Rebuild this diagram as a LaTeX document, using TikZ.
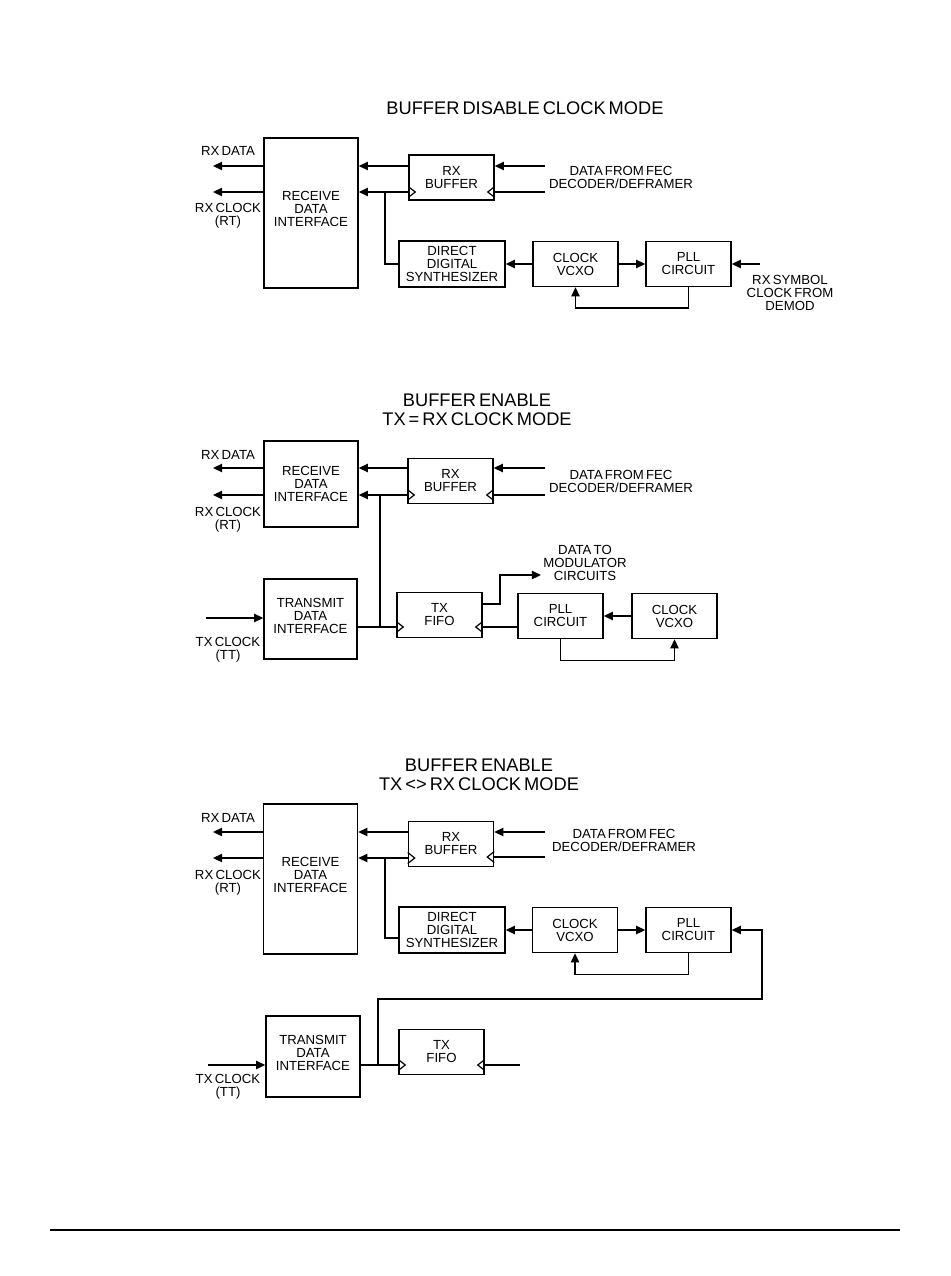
\documentclass[tikz,border=0pt]{standalone}
\usepackage{fontspec}
\setmainfont{Liberation Sans}[WordSpace=0.6]
\usetikzlibrary{arrows.meta, positioning, calc}

\newcommand{\lblfont}{\fontsize{9.9}{9.75}\selectfont}
\newcommand{\ttlfont}{\fontsize{13.7}{14.3}\selectfont}

\tikzset{
  blk/.style={draw, rectangle, line width=1.15pt, minimum width=63.75pt, minimum height=33.75pt, inner sep=0pt, align=center, font=\lblfont},
  lbl/.style={align=center, inner sep=0pt, font=\lblfont},
  ttl/.style={align=center, inner sep=0pt, font=\ttlfont},
  wire/.style={line width=1.15pt},
  arr/.style={wire, -{Triangle[length=6.8pt, width=6.2pt]}},
  clkl/.pic={\draw[line width=0.9pt] (0,-5.5) -- (7,0) -- (0,5.5);},
  clkr/.pic={\draw[line width=0.9pt] (0,-5.5) -- (-7,0) -- (0,5.5);},
}

\begin{document}
\begin{tikzpicture}[x=0.75pt, y=-0.75pt]
        \useasboundingbox (0,0) rectangle (950,1276);

        % Buffer disable clock mode
        \node[ttl] (ttlA) at (525,108) {BUFFER DISABLE CLOCK MODE};
        \node[blk, minimum width=70.5pt, minimum height=112.5pt,
              label={[lbl, yshift=3.4pt]center:RECEIVE\\DATA\\INTERFACE}] (rdiA) at (311,213) {};
        \node[blk] (rxbA) at (451.5,177.5) {RX\\BUFFER};
        \node[blk, minimum width=79.5pt, minimum height=34.5pt] (ddsA) at (452,264) {DIRECT\\DIGITAL\\SYNTHESIZER};
        \node[blk] (vcoA) at (575.5,264) {CLOCK\\VCXO};
        \node[blk] (pllA) at (688.5,264) {PLL\\CIRCUIT};

        \coordinate (rxdA) at (213,166);
        \coordinate (rxcA) at (213,192);
        \coordinate (fecA) at (545,166);
        \coordinate (fckA) at (545,192);
        \coordinate (tapA) at (385,192);
        \coordinate (symA) at (760,264);

        \draw[arr] (rdiA.west |- rxdA) -- (rxdA);
        \draw[arr] (rdiA.west |- rxcA) -- (rxcA);
        \draw[arr] (rxbA.west |- rxdA) -- (rdiA.east |- rxdA);
        \draw[arr] (rxbA.west |- rxcA) -- (rdiA.east |- rxcA);
        \draw[arr] (fecA) -- (rxbA.east |- fecA);
        \draw[wire] (fckA) -- (rxbA.east |- fckA);
        \pic at (rxbA.west |- rxcA) {clkl};
        \pic at (rxbA.east |- fckA) {clkr};
        \draw[wire] (tapA) |- (ddsA.west);
        \draw[arr] (vcoA.west) -- (ddsA.east);
        \draw[arr] (vcoA.east) -- (pllA.west);
        \draw[arr] (symA) -- (pllA.east);
        \draw[arr] (pllA.south) -- ++(0,21) -| (vcoA.south);

        \node[lbl] (lrxdA) at (228,151) {RX DATA};
        \node[lbl] (lrxcA) at (228,216) {RX CLOCK\\(RT)};
        \node[lbl] (lfecA) at (621,177) {DATA FROM FEC\\DECODER/DEFRAMER};
        \node[lbl] (lsymA) at (790,293) {RX SYMBOL\\CLOCK FROM\\DEMOD};

        % Buffer enable, tx = rx clock mode
        \node[ttl] (ttlB) at (477,409.5) {BUFFER ENABLE\\TX = RX CLOCK MODE};
        \node[blk, minimum width=70.5pt, minimum height=64.5pt] (rdiB) at (311,484) {RECEIVE\\DATA\\INTERFACE};
        \node[blk] (rxbB) at (450.5,481) {RX\\BUFFER};
        \node[blk, minimum width=69.75pt, minimum height=60pt,
              label={[lbl, yshift=2.2pt]center:TRANSMIT\\DATA\\INTERFACE}] (tdiB) at (310.5,619) {};
        \node[blk] (txfB) at (439.5,615) {TX\\FIFO};
        \node[blk] (pllB) at (560.5,616) {PLL\\CIRCUIT};
        \node[blk] (vcoB) at (674.5,616) {CLOCK\\VCXO};

        \coordinate (rxdB) at (213,468);
        \coordinate (rxcB) at (213,495);
        \coordinate (fecB) at (545,468);
        \coordinate (fckB) at (545,495);
        \coordinate (tapB) at (380,627);
        \coordinate (txcB) at (206,618);
        \coordinate (doutB) at (500,604);
        \coordinate (modB) at (541,575);

        \draw[arr] (rdiB.west |- rxdB) -- (rxdB);
        \draw[arr] (rdiB.west |- rxcB) -- (rxcB);
        \draw[arr] (rxbB.west |- rxdB) -- (rdiB.east |- rxdB);
        \draw[arr] (rxbB.west |- rxcB) -- (rdiB.east |- rxcB);
        \draw[arr] (fecB) -- (rxbB.east |- fecB);
        \draw[wire] (fckB) -- (rxbB.east |- fckB);
        \pic at (rxbB.west |- rxcB) {clkl};
        \pic at (rxbB.east |- fckB) {clkr};
        \draw[wire] (tapB |- rxcB) -- (tapB);
        \draw[arr] (txcB) -- (tdiB.west |- txcB);
        \draw[wire] (tdiB.east |- tapB) -- (txfB.west |- tapB);
        \draw[wire] (pllB.west |- tapB) -- (txfB.east |- tapB);
        \pic at (txfB.west |- tapB) {clkl};
        \pic at (txfB.east |- tapB) {clkr};
        \draw[arr] (txfB.east |- doutB) -- (doutB) |- (modB);
        \draw[arr] (vcoB.west) -- (pllB.east);
        \draw[arr] (pllB.south) -- ++(0,21) -| (vcoB.south);

        \node[lbl] (lrxdB) at (228,455) {RX DATA};
        \node[lbl] (lrxcB) at (228,520) {RX CLOCK\\(RT)};
        \node[lbl] (lfecB) at (621,481) {DATA FROM FEC\\DECODER/DEFRAMER};
        \node[lbl] (ltxcB) at (228,650) {TX CLOCK\\(TT)};
        \node[lbl] (lmodB) at (585,563) {DATA TO\\MODULATOR\\CIRCUITS};

        % Buffer enable, tx <> rx clock mode
        \node[ttl] (ttlC) at (479,774.5) {BUFFER ENABLE\\TX <> RX CLOCK MODE};
        \node[blk, minimum width=70.5pt, minimum height=112.5pt,
              label={[lbl, yshift=3.4pt]center:RECEIVE\\DATA\\INTERFACE}] (rdiC) at (310.5,879) {};
        \node[blk] (rxbC) at (451,844) {RX\\BUFFER};
        \node[blk, minimum width=79.5pt, minimum height=34.5pt] (ddsC) at (452,930) {DIRECT\\DIGITAL\\SYNTHESIZER};
        \node[blk] (vcoC) at (575,930) {CLOCK\\VCXO};
        \node[blk] (pllC) at (688.5,930) {PLL\\CIRCUIT};
        \node[blk, minimum width=70.5pt, minimum height=60.75pt,
              label={[lbl, yshift=3pt]center:TRANSMIT\\DATA\\INTERFACE}] (tdiC) at (313,1056.5) {};
        \node[blk] (txfC) at (441.5,1052) {TX\\FIFO};

        \coordinate (rxdC) at (213,832);
        \coordinate (rxcC) at (213,858);
        \coordinate (fecC) at (545,832);
        \coordinate (fckC) at (545,857);
        \coordinate (tapC) at (385,938);
        \coordinate (tapD) at (378,1065);
        \coordinate (loopC) at (762,999);
        \coordinate (txcC) at (208,1065);
        \coordinate (endC) at (520,1065);

        \draw[arr] (rdiC.west |- rxdC) -- (rxdC);
        \draw[arr] (rdiC.west |- rxcC) -- (rxcC);
        \draw[arr] (rxbC.west |- rxdC) -- (rdiC.east |- rxdC);
        \draw[arr] (rxbC.west |- rxcC) -- (rdiC.east |- rxcC);
        \draw[arr] (fecC) -- (rxbC.east |- fecC);
        \draw[wire] (fckC) -- (rxbC.east |- fckC);
        \pic at (rxbC.west |- rxcC) {clkl};
        \pic at (rxbC.east |- fckC) {clkr};
        \draw[wire] (tapC |- rxcC) -- (tapC) -- (ddsC.west |- tapC);
        \draw[arr] (vcoC.west) -- (ddsC.east);
        \draw[arr] (vcoC.east) -- (pllC.west);
        \draw[arr] (pllC.south) -- ++(0,21) -| (vcoC.south);
        \draw[arr] (tapD) |- (loopC) |- (pllC.east);
        \draw[arr] (txcC) -- (tdiC.west |- txcC);
        \draw[wire] (tdiC.east |- tapD) -- (txfC.west |- tapD);
        \draw[wire] (endC) -- (txfC.east |- endC);
        \pic at (txfC.west |- tapD) {clkl};
        \pic at (txfC.east |- endC) {clkr};

        \node[lbl] (lrxdC) at (228,818) {RX DATA};
        \node[lbl] (lrxcC) at (228,882.5) {RX CLOCK\\(RT)};
        \node[lbl] (lfecC) at (624,840) {DATA FROM FEC\\DECODER/DEFRAMER};
        \node[lbl] (ltxcC) at (228,1086.5) {TX CLOCK\\(TT)};

        % page rule
        \coordinate (ruleL) at (50,1230);
        \coordinate (ruleR) at (900,1230);
        \draw[line width=1.3pt] (ruleL) -- (ruleR);
    \end{tikzpicture}
\end{document}
